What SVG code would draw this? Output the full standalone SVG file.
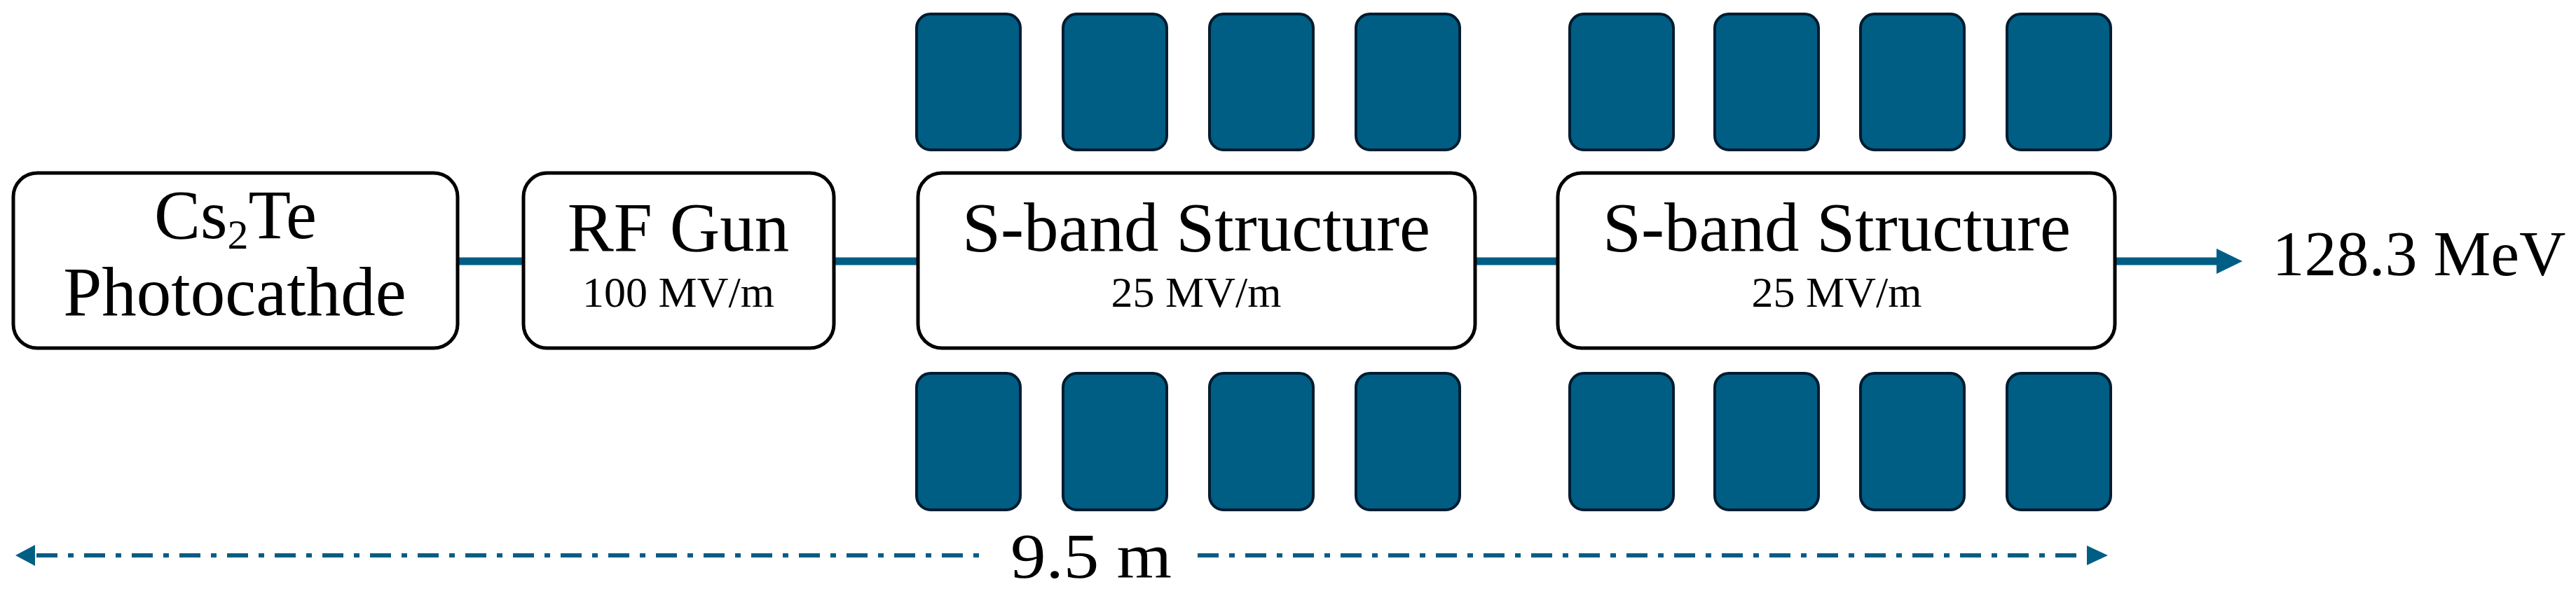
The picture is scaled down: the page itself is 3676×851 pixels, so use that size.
<svg xmlns="http://www.w3.org/2000/svg" width="3676" height="851" viewBox="0 0 3676 851">
<style>
.box{fill:#fff;stroke:#000;stroke-width:5}
.kly{fill:#005e84;stroke:#001c30;stroke-width:4}
.lbl{font-family:"Liberation Serif","Times New Roman",serif;fill:#000;text-anchor:middle}
.big{font-size:99px}
.sub{font-size:62px}
.beam{stroke:#005e84;stroke-width:11;fill:none}
.dim{stroke:#005e84;stroke-width:6;fill:none;stroke-dasharray:30 15 8 15}
.head{fill:#005e84}
</style>
<rect width="3676" height="851" fill="#fff"/>
<g id="connectors">
<line class="beam" x1="651" y1="373" x2="749" y2="373"/>
<line class="beam" x1="1188" y1="373" x2="1312" y2="373"/>
<line class="beam" x1="2103" y1="373" x2="2225" y2="373"/>
<line class="beam" x1="3016" y1="373" x2="3166" y2="373"/>
<polygon class="head" points="3163,355 3200,373 3163,391"/>
<line class="dim" x1="52" y1="793" x2="1406" y2="793"/>
<line class="dim" x1="1709" y1="793" x2="2980" y2="793"/>
<polygon class="head" points="22,793 50,778 50,808"/>
<polygon class="head" points="3008,793 2978,779 2978,807"/>
</g>
<g id="photocathode">
<rect class="box" x="19" y="247" width="634" height="250" rx="34"/>
<text class="lbl big" x="336" y="340">Cs<tspan font-size="60" dy="15">2</tspan><tspan dy="-15">Te</tspan></text>
<text class="lbl big" x="335" y="450">Photocathde</text>
</g>
<g id="rf-gun">
<rect class="box" x="747" y="247" width="443" height="250" rx="34"/>
<text class="lbl big" x="968" y="358">RF Gun</text>
<text class="lbl sub" x="968" y="438">100 MV/m</text>
</g>
<g id="s-band-1">
<rect class="box" x="1310" y="247" width="795" height="250" rx="34"/>
<text class="lbl big" x="1707" y="358">S-band Structure</text>
<text class="lbl sub" x="1707" y="438">25 MV/m</text>
</g>
<g id="s-band-2">
<rect class="box" x="2223" y="247" width="795" height="250" rx="34"/>
<text class="lbl big" x="2621" y="358">S-band Structure</text>
<text class="lbl sub" x="2621" y="438">25 MV/m</text>
</g>
<g id="klystrons-top">
<rect class="kly" x="1308" y="20" width="148" height="194" rx="20"/>
<rect class="kly" x="1517" y="20" width="148" height="194" rx="20"/>
<rect class="kly" x="1726" y="20" width="148" height="194" rx="20"/>
<rect class="kly" x="1935" y="20" width="148" height="194" rx="20"/>
<rect class="kly" x="2240" y="20" width="148" height="194" rx="20"/>
<rect class="kly" x="2447" y="20" width="148" height="194" rx="20"/>
<rect class="kly" x="2655" y="20" width="148" height="194" rx="20"/>
<rect class="kly" x="2864" y="20" width="148" height="194" rx="20"/>
</g>
<g id="klystrons-bottom">
<rect class="kly" x="1308" y="533" width="148" height="195" rx="20"/>
<rect class="kly" x="1517" y="533" width="148" height="195" rx="20"/>
<rect class="kly" x="1726" y="533" width="148" height="195" rx="20"/>
<rect class="kly" x="1935" y="533" width="148" height="195" rx="20"/>
<rect class="kly" x="2240" y="533" width="148" height="195" rx="20"/>
<rect class="kly" x="2447" y="533" width="148" height="195" rx="20"/>
<rect class="kly" x="2655" y="533" width="148" height="195" rx="20"/>
<rect class="kly" x="2864" y="533" width="148" height="195" rx="20"/>
</g>
<g id="energy-label">
<text class="lbl" font-size="92" x="3452" y="393" textLength="419" lengthAdjust="spacingAndGlyphs">128.3 MeV</text>
</g>
<g id="length-label">
<text class="lbl" font-size="92" x="1557" y="825" textLength="230" lengthAdjust="spacingAndGlyphs">9.5 m</text>
</g>
</svg>
